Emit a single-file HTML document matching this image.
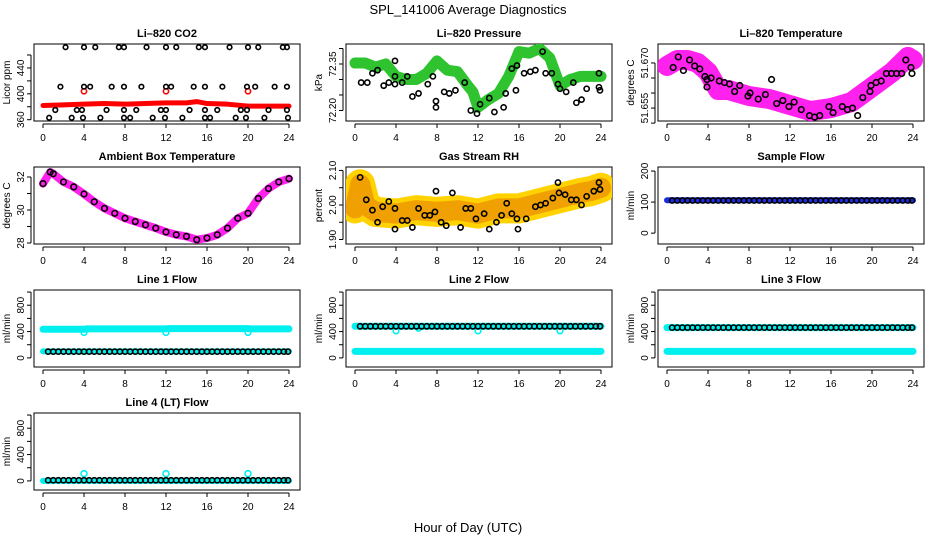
<!DOCTYPE html>
<html><head><meta charset="utf-8"><style>
body{margin:0;background:#fff;}
svg{display:block;font-family:"Liberation Sans",sans-serif;}
</style></head><body>
<svg id="c" width="936" height="540" viewBox="0 0 936 540">
<text x="468" y="14" font-size="13" text-anchor="middle">SPL_141006  Average Diagnostics</text>
<text x="468" y="532" font-size="13" text-anchor="middle">Hour of Day (UTC)</text>
</svg>
<script>
// ---- data ----
const xTicks=[0,4,8,12,16,20,24];
const co2BandH=[0,2,4,6,8,10,12,14,15,16,18,20,22,24];
const co2BandV=[382,383,384,385,384,385,386,386,388,385,384,381,381,381];
const co2RedH=[4,12,20];
const co2RedV=[404,404,404];
const co2BlkH=[2.2,4,5.1,7.4,7.9,10.1,12,13,15.2,15.8,18.2,20,21,23.4,23.8,1.7,4,4.6,6.7,7.9,9.6,12,12.5,14.7,15.8,17.5,19.9,20.7,22.6,23.8,1.2,3.3,3.8,6.2,7.9,9.1,11.5,12,14.3,15.8,17,19.3,19.9,22,23.8,0.6,2.8,3.9,5.6,7.9,8.5,10.7,11.9,13.6,15.8,16.3,18.8,19.8,21.6,23.9];
const co2BlkV=[472,472,472,472,472,472,472,472,472,472,472,472,472,472,472,411,411,411,411,411,411,411,411,411,411,411,411,411,411,411,375,375,375,375,375,375,375,375,375,375,375,375,375,375,375,363,363,363,363,363,363,363,363,363,363,363,363,363,363,363];
const presBandH=[0,1,2,3,4,5,6,7,8,9,10,11,11.5,12,13,14,15,16,17,18,19,20,21,22,23,24];
const presBandV=[72.353,72.353,72.34,72.35,72.31,72.30,72.30,72.32,72.36,72.33,72.325,72.28,72.26,72.21,72.235,72.255,72.31,72.39,72.385,72.40,72.37,72.28,72.30,72.31,72.31,72.31];
const presBlkH=[0.6,1.2,1.7,2.2,2.8,3.3,3.9,3.9,3.9,4.6,5.1,5.6,6.2,7.1,7.6,7.9,7.9,8.7,9.2,9.8,10.7,11.3,11.9,12.2,13.1,13.6,14.5,14.7,15.3,15.8,15.7,16.5,17.1,17.6,18.3,18.6,19.2,19.8,20,20.6,21.3,21.6,22.1,22.6,23.8,23.8,23.9];
const presBlkV=[72.29,72.29,72.32,72.33,72.28,72.29,72.36,72.31,72.285,72.29,72.31,72.245,72.255,72.285,72.31,72.23,72.21,72.26,72.255,72.265,72.29,72.2,72.19,72.22,72.24,72.195,72.21,72.255,72.335,72.345,72.265,72.32,72.325,72.33,72.39,72.32,72.32,72.285,72.27,72.26,72.29,72.225,72.235,72.27,72.32,72.275,72.265];
const tempBandH=[0,1,2,3,4,5,6,8,10,12,14,16,18,20,22,23.5,24];
const tempBandV=[51.669,51.671,51.671,51.670,51.667,51.661,51.661,51.659,51.658,51.656,51.654,51.655,51.657,51.662,51.667,51.672,51.671];
const tempBlkH=[0.6,1.1,1.6,2.2,2.7,3.2,3.7,3.9,3.9,4.3,5.1,5.6,6.1,6.6,7.1,7.9,8.1,8.9,9.6,10.2,10.7,11.3,11.9,12.4,13.1,13.9,14.4,14.9,15.8,16.2,17.1,17.6,18.1,18.6,19.1,19.8,19.9,20.4,20.9,21.4,21.9,22.4,22.9,23.3,23.8,23.9];
const tempBlkV=[51.6685,51.672,51.6675,51.671,51.669,51.668,51.6655,51.662,51.6645,51.665,51.664,51.6635,51.663,51.6605,51.6625,51.659,51.66,51.658,51.6595,51.6645,51.6565,51.6575,51.6555,51.657,51.6545,51.6525,51.652,51.6525,51.6555,51.6535,51.6555,51.6545,51.655,51.6525,51.6585,51.6605,51.6625,51.6635,51.664,51.6665,51.6665,51.6665,51.6665,51.671,51.6685,51.6665];
const ambH=[0,0.7,1,2,3,4,5,6,7,8,9,10,11,12,13,14,15,16,17,18,19,20,21,22,23,24];
const ambV=[31.6,32.3,32.2,31.7,31.4,30.97,30.5,30.1,29.8,29.5,29.3,29.1,28.9,28.67,28.5,28.4,28.2,28.3,28.5,28.9,29.5,29.8,30.7,31.3,31.7,31.9];
const rhBandH=[0,0.5,1,2,4,6,8,10,12,14,16,18,20,22,23,24];
const rhBandV=[1.99,2.06,2.0,1.98,1.975,1.985,1.98,1.985,1.975,1.99,1.99,2.005,2.02,2.035,2.04,2.05];
const rhBlkH=[0.5,1.1,1.7,2.2,2.7,3.3,3.9,3.9,4.6,5.1,5.6,6.2,6.8,7.3,7.8,7.9,8.4,8.9,9.5,10.3,10.8,11.3,11.8,12.6,13.1,13.8,14.3,14.8,15.3,15.8,15.9,16.7,17.6,18.1,18.6,19.3,19.8,19.9,20.5,21.1,21.6,22.1,22.6,23.3,23.8,23.9];
const rhBlkV=[2.08,2.015,1.985,1.95,1.995,2.01,1.99,1.93,1.955,1.955,1.935,1.99,1.97,1.97,1.98,2.04,1.95,1.94,2.035,1.935,1.99,1.99,1.96,1.975,1.93,1.95,1.97,2.005,1.975,1.96,1.93,1.96,1.995,2.0,2.005,2.02,2.065,2.035,2.03,2.015,2.015,2.0,2.025,2.04,2.065,2.045];
const flowH=[0.5,1,1.5,2,2.5,3,3.5,4,4.5,5,5.5,6,6.5,7,7.5,8,8.5,9,9.5,10,10.5,11,11.5,12,12.5,13,13.5,14,14.5,15,15.5,16,16.5,17,17.5,18,18.5,19,19.5,20,20.5,21,21.5,22,22.5,23,23.5,23.9];
const sampleBandH=[0,24];
const sampleBandV=[106,106];
const sampleBlkV=105;
const l1CyanHiH=[0,4,4.2,12,12.2,20,20.2,24];
const l1CyanHiV=[435,435,440,440,445,445,440,440];
const l1CyanDipH=[4,12,20];
const l1CyanDipV=[385,385,385];
const l1Low=[100,100];
const l1Blk=95;
const l2CyanHi=[480,480];
const l2CyanDipH=[4,12,20,6.2];
const l2CyanDipV=[410,410,410,450];
const l2CyanLow=[100,100];
const l2Blk=480;
const l3CyanHi=[460,460];
const l3CyanLow=[100,100];
const l3Blk=460;
const l4Cyan=[0,0];
const l4CyanDipH=[4,12,20];
const l4CyanDipV=[110,110,110];
const l4Blk=10;

// ---- layout ----
const svg=document.getElementById('c');
const NS='http://www.w3.org/2000/svg';
const colL=[34,346,658], rowT=[44,167,290,413], W=266, H=77;
function mk(tag,attrs,parent){const e=document.createElementNS(NS,tag);for(const k in attrs)e.setAttribute(k,attrs[k]);(parent||svg).appendChild(e);return e;}
function panel(col,row,ymin,ymax,yticks,ylabels,ylab,title,name){
  const g=mk('g',{});
  
  
  const L=colL[col],T=rowT[row];
  const xs=h=>L+9+h*246/24;
  const ys=v=>T+H-(v-ymin)/(ymax-ymin)*H;
  const t=mk('text',{x:L+W/2,y:T-7,'font-size':11,'font-weight':'bold','text-anchor':'middle'},g);t.textContent=title;
  
  
  const box=mk('rect',{x:L,y:T,width:W,height:H,fill:'none',stroke:'#000','stroke-width':1},g);
  
  
  const xa=mk('g',{},g);
  
  
  mk('line',{x1:xs(0),x2:xs(24),y1:T+H+3,y2:T+H+3,stroke:'#000'},xa);
  xTicks.forEach(v=>{mk('line',{x1:xs(v),x2:xs(v),y1:T+H+3,y2:T+H+7,stroke:'#000'},xa);
    const tx=mk('text',{x:xs(v),y:T+H+20,'font-size':10,'text-anchor':'middle'},xa);tx.textContent=v;});
  const ya=mk('g',{},g);
  
  
  mk('line',{x1:L-3,x2:L-3,y1:ys(yticks[0]),y2:ys(yticks[yticks.length-1]),stroke:'#000'},ya);
  yticks.forEach(v=>mk('line',{x1:L-3,x2:L-7,y1:ys(v),y2:ys(v),stroke:'#000'},ya));
  ylabels.forEach(v=>{const tx=mk('text',{x:0,y:0,'font-size':10,'text-anchor':'middle',transform:`translate(${L-10},${ys(v)}) rotate(-90)`},ya);tx.textContent=v;});
  const yl=mk('text',{x:0,y:0,'font-size':10,'text-anchor':'middle',transform:`translate(${L-24},${T+H/2}) rotate(-90)`},g);yl.textContent=ylab;
  
  
  const clip=mk('clipPath',{id:'cl'+name},g);mk('rect',{x:L,y:T,width:W,height:H},clip);
  const plot=mk('g',{'clip-path':`url(#cl${name})`},g);
  return {xs,ys,plot};
}
function band(p,hs,vs,color,w,name){
  const pts=hs.map((h,i)=>p.xs(h)+','+p.ys(vs[i])).join(' ');
  const e=mk('polyline',{points:pts,fill:'none',stroke:color,'stroke-width':w,'stroke-linejoin':'round','stroke-linecap':'round'},p.plot);
  
  
  return e;
}
function pts(p,hs,vs,color,r,name){
  const g=mk('g',{},p.plot);
  
  
  hs.forEach((h,i)=>{const v=Array.isArray(vs)?vs[i]:vs;
    mk('circle',{cx:p.xs(h),cy:p.ys(v),r:r,fill:'none',stroke:color,'stroke-width':1.6},g);});
}
const seq=(a,b,s)=>{const r=[];for(let v=a;v<=b+1e-9;v+=s)r.push(+v.toFixed(4));return r;};

let p=panel(0,0,358,477,seq(360,460,20),[360,400,440],'Licor ppm','Li\u2013820 CO2','co2');
band(p,co2BandH,co2BandV,'#f00',5,'co2-red-band');
pts(p,co2RedH,co2RedV,'#f00',2.6,'co2-red-points');
pts(p,co2BlkH,co2BlkV,'#000',2.3,'co2-black-points');
p=panel(1,0,72.166,72.4145,seq(72.20,72.40,0.05),['72.20','72.35'],'kPa','Li\u2013820 Pressure','pressure');
band(p,presBandH,presBandV,'#2fc42f',11,'pressure-green-band');
pts(p,presBlkH,presBlkV,'#000',2.6,'pressure-black-points');
p=panel(2,0,51.6507,51.6763,seq(51.650,51.670,0.005),['51.655','51.670'],'degrees C','Li\u2013820 Temperature','li820-temp');
band(p,tempBandH,tempBandV,'#ff22ee',20,'li820-temp-magenta-band');
pts(p,tempBlkH,tempBlkV,'#000',2.8,'li820-temp-black-points');
p=panel(0,1,27.94,32.606,seq(28,32,1),[28,30,32],'degrees C','Ambient Box Temperature','ambient');
band(p,ambH,ambV,'#ff22ee',8,'ambient-magenta-band');
pts(p,ambH,ambV,'#000',2.8,'ambient-black-points');
p=panel(1,1,1.887,2.110,seq(1.90,2.10,0.05),['1.90','2.00','2.10'],'percent','Gas Stream RH','rh');
band(p,rhBandH,rhBandV,'#ffd200',30,'rh-yellow-band');
band(p,rhBandH,rhBandV,'#f0a000',20,'rh-orange-band');
pts(p,rhBlkH,rhBlkV,'#000',2.6,'rh-black-points');
p=panel(2,1,-35,213,[0,100,200],[0,100,200],'ml/min','Sample Flow','sample-flow');
band(p,sampleBandH,sampleBandV,'#1a2ee0',6,'sample-flow-blue-band');
pts(p,flowH,sampleBlkV,'#000',2.6,'sample-flow-black-points');
const fT=seq(0,1000,200), fL=[0,400,800];
p=panel(0,2,-138,1031,fT,fL,'ml/min','Line 1 Flow','line1-flow');
band(p,l1CyanHiH,l1CyanHiV,'#00f0f0',7,'line1-cyan-high-band');
pts(p,l1CyanDipH,l1CyanDipV,'#00f0f0',2.8,'line1-cyan-dips');
band(p,[0,24],l1Low,'#00f0f0',6,'line1-cyan-low-band');
pts(p,flowH,l1Blk,'#000',2.6,'line1-black-points');
p=panel(1,2,-138,1031,fT,fL,'ml/min','Line 2 Flow','line2-flow');
band(p,[0,24],l2CyanHi,'#00f0f0',7,'line2-cyan-high-band');
pts(p,l2CyanDipH,l2CyanDipV,'#00f0f0',2.8,'line2-cyan-dips');
band(p,[0,24],l2CyanLow,'#00f0f0',7,'line2-cyan-low-band');
pts(p,flowH,l2Blk,'#000',2.6,'line2-black-points');
p=panel(2,2,-138,1031,fT,fL,'ml/min','Line 3 Flow','line3-flow');
band(p,[0,24],l3CyanHi,'#00f0f0',7,'line3-cyan-high-band');
band(p,[0,24],l3CyanLow,'#00f0f0',7,'line3-cyan-low-band');
pts(p,flowH,l3Blk,'#000',2.6,'line3-black-points');
p=panel(0,3,-138,1031,fT,fL,'ml/min','Line 4 (LT) Flow','line4-flow');
band(p,[0,24],l4Cyan,'#00f0f0',6,'line4-cyan-band');
pts(p,l4CyanDipH,l4CyanDipV,'#00f0f0',3,'line4-cyan-spikes');
pts(p,flowH,l4Blk,'#000',2.6,'line4-black-points');
</script>
</body></html>
